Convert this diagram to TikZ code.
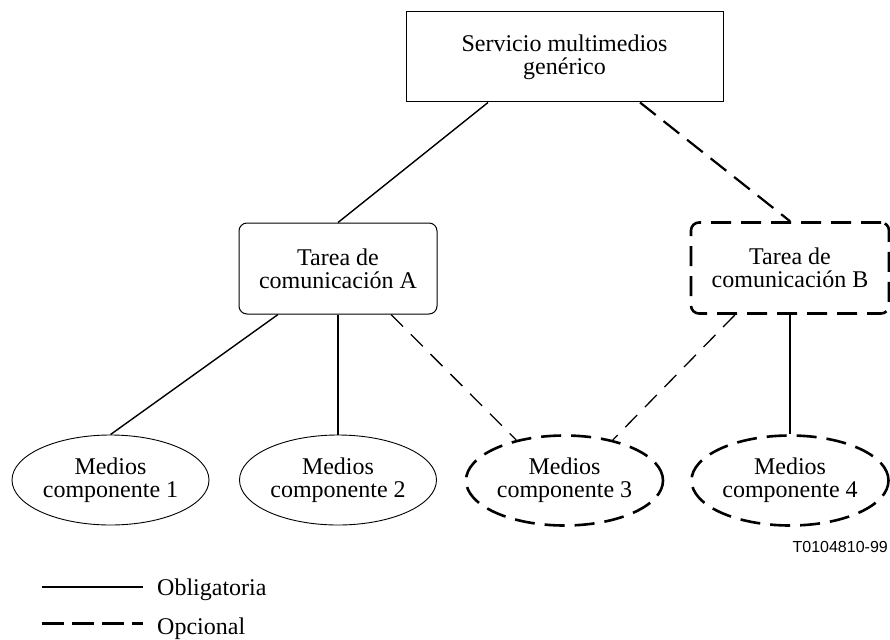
\documentclass[tikz,border=0pt]{standalone}
\usepackage{fontspec}
\setmainfont{Liberation Serif}
\newfontfamily\figsans{Liberation Sans}
\usetikzlibrary{shapes.geometric}

\tikzset{
  lbl/.style={align=center, font=\fontsize{24}{23}\selectfont, inner sep=0pt},
  plainbox/.style={lbl, draw, line width=1pt, minimum width=317pt, minimum height=90pt},
  taskbox/.style={lbl, draw, line width=1pt, rounded corners=8pt, minimum width=198pt, minimum height=91pt},
  media/.style={lbl, ellipse, draw, line width=0.9pt, minimum width=197pt, minimum height=90pt},
  optborder/.style={line width=2.6pt, dash pattern=on 20pt off 10pt},
  mandatory/.style={line width=1.4pt},
  optional/.style={line width=1.3pt, dash pattern=on 17pt off 11pt},
  optionalthick/.style={line width=2.2pt, dash pattern=on 20pt off 10pt},
}

\begin{document}
\begin{tikzpicture}[x=1pt, y=-1pt]
  \useasboundingbox (0,0) rectangle (890,639);

  % service and tasks
  \node[plainbox] (srv) at (564.5,57) {Servicio multimedios\\genérico};
  \node[taskbox] (ta) at (338,268.5) {Tarea de\\comunicación A};
  \node[taskbox, optborder] (tb) at (790,268) {Tarea de\\comunicación B};

  % component media
  \node[media] (e1) at (110.5,480) {Medios\\componente 1};
  \node[media] (e2) at (338,480) {Medios\\componente 2};
  \node[media, optborder] (e3) at (564.5,480.5) {Medios\\componente 3};
  \node[media, optborder] (e4) at (790,480.5) {Medios\\componente 4};

  % connectors
  \draw[mandatory] ([xshift=-76.5pt]srv.south) -- (ta.north);
  \draw[optionalthick] ([xshift=75.5pt]srv.south) -- (tb.north);
  \draw[mandatory] ([xshift=-60pt]ta.south) -- (e1.north);
  \draw[mandatory] (ta.south) -- (e2.north);
  \draw[optional] ([xshift=53pt]ta.south) -- (e3.140);
  \draw[optional] ([xshift=-55pt]tb.south) -- (e3.40);
  \draw[mandatory] (tb.south) -- (e4.north);

  % figure reference
  \node[anchor=base east, inner sep=0pt, font=\figsans\fontsize{16}{18}\selectfont] (ref) at (888,552) {T0104810-99};

  % legend
  \coordinate (l1a) at (42,587);
  \coordinate (l1b) at (143,587);
  \coordinate (l2a) at (42,623);
  \coordinate (l2b) at (143,623);
  \draw[mandatory] (l1a) -- (l1b);
  \draw[line width=3pt, dash pattern=on 22pt off 8pt] (l2a) -- (l2b);
  \node[anchor=base west, inner sep=0pt, font=\fontsize{24}{23}\selectfont] (lg1) at (157,595) {Obligatoria};
  \node[anchor=base west, inner sep=0pt, font=\fontsize{24}{23}\selectfont] (lg2) at (157,634) {Opcional};
\end{tikzpicture}
\end{document}
